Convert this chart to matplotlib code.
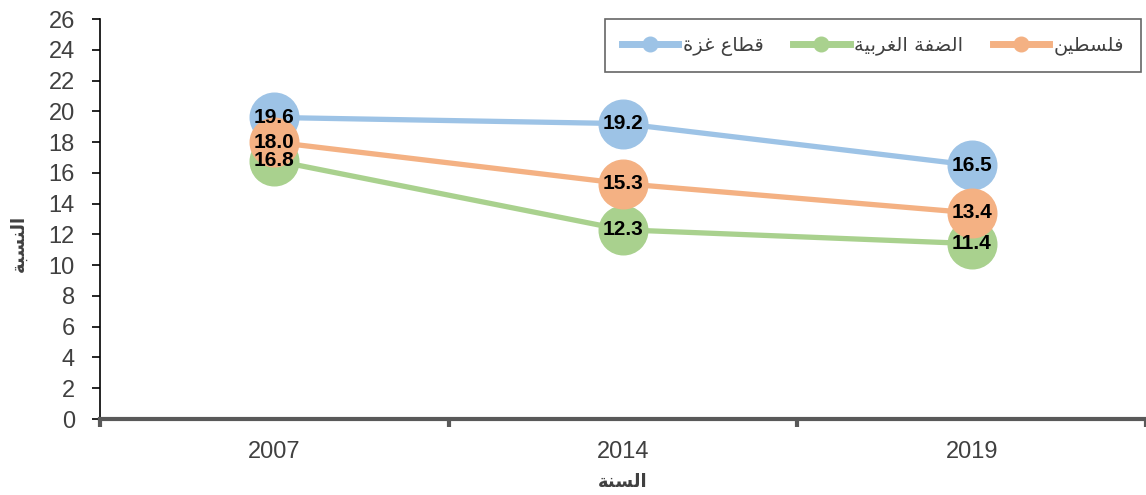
import matplotlib.pyplot as plt

years = ['2007', '2014', '2019']
gaza = [19.6, 19.2, 16.5]
west_bank = [16.8, 12.3, 11.4]
palestine = [18.0, 15.3, 13.4]

# Arabic text in presentation forms, visual order (matplotlib has no shaping)
lbl_palestine = '\uFEE6\uFEF4\uFEC4\uFEB4\uFEE0\uFED3'
lbl_west_bank = '\uFE94\uFEF4\uFE91\uFEAE\uFED0\uFEDF\uFE8D \uFE94\uFED4\uFEC0\uFEDF\uFE8D'
lbl_gaza = '\uFE93\uFEB0\uFECF \uFEC9\uFE8E\uFEC4\uFED7'
y_title = '\uFE94\uFE92\uFEB4\uFEE8\uFEDF\uFE8D'
x_title = '\uFE94\uFEE8\uFEB4\uFEDF\uFE8D'

plt.rcParams['font.family'] = ['Liberation Sans', 'DejaVu Sans']

fig = plt.figure(figsize=(11.46, 4.95), dpi=100)
ax = fig.add_axes([100 / 1146, 76 / 495, 1 - 100 / 1146, 400 / 495])

x = list(range(len(years)))
c_blue = '#9DC3E6'
c_green = '#A9D18E'
c_orange = '#F4B183'

l_green, = ax.plot(x, west_bank, color=c_green, lw=3.8, marker='o', ms=35, zorder=2)
l_blue, = ax.plot(x, gaza, color=c_blue, lw=3.8, marker='o', ms=35, zorder=3)
l_orange, = ax.plot(x, palestine, color=c_orange, lw=3.8, marker='o', ms=35, zorder=4)

for series in (west_bank, gaza, palestine):
    for xi, v in zip(x, series):
        ax.text(xi, v, f'{v:.1f}', ha='center', va='center', fontsize=15,
                fontweight='bold', color='black', zorder=10)

ax.set_xlim(-0.5, 2.5)
ax.set_ylim(0, 26)
ax.set_yticks(range(0, 27, 2))
ax.set_xticks(x)
ax.set_xticklabels(years)
ax.set_xticks([-0.5, 0.5, 1.5, 2.5], minor=True)
ax.tick_params(axis='x', which='major', length=0, labelsize=17, pad=16, labelcolor='#404040')
ax.tick_params(axis='x', which='minor', length=6, width=3, color='#595959', direction='out')
ax.tick_params(axis='y', length=6, width=1.2, color='black', labelsize=17, labelcolor='#404040', pad=12)

for s in ('top', 'right'):
    ax.spines[s].set_visible(False)
ax.spines['bottom'].set_color('#595959')
ax.spines['bottom'].set_linewidth(3)
ax.spines['left'].set_color('black')
ax.spines['left'].set_linewidth(1.2)

ax.set_ylabel(y_title, fontsize=13, fontweight='bold', color='#404040',
              family=['DejaVu Sans'])
ax.yaxis.set_label_coords(-0.069, 0.44)
ax.set_xlabel(x_title, fontsize=13, fontweight='bold', color='#404040',
              family=['DejaVu Sans'])
ax.xaxis.set_label_coords(0.5, -0.134)

leg = fig.legend([l_blue, l_green, l_orange],
                 [lbl_gaza, lbl_west_bank, lbl_palestine],
                 ncol=3, loc='upper right', bbox_to_anchor=(1141 / 1146, 1 - 19 / 495),
                 frameon=True, fancybox=False, edgecolor='#404040',
                 prop={'family': ['DejaVu Sans'], 'size': 14},
                 markerscale=0.3, handlelength=2.9, columnspacing=1.5,
                 borderpad=0.85, handletextpad=0.25, borderaxespad=0)
leg.get_frame().set_linewidth(1.2)
for line in leg.get_lines():
    line.set_linewidth(5)
for t in leg.get_texts():
    t.set_color('#404040')

fig.savefig('out.png', dpi=100)
